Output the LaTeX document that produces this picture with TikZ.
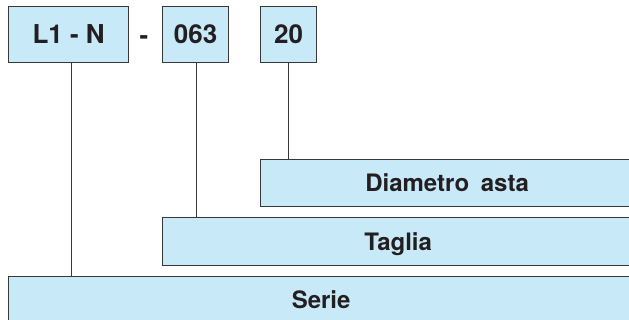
\documentclass[tikz,border=0pt]{standalone}
\usepackage{fontspec}
\setmainfont{TeX Gyre Heros}
\definecolor{boxfill}{HTML}{C8E9F8}
\definecolor{boxline}{HTML}{383838}
\definecolor{txt}{HTML}{231F20}
\begin{document}
\begin{tikzpicture}[x=1pt,y=-1pt,
  shapebox/.style={draw=boxline,fill=boxfill,line width=1.3pt,inner sep=0pt,anchor=north west,text=txt,font=\fontsize{26}{26}\selectfont\bfseries,text height=18.7pt,text depth=0pt},
  barbox/.style={shapebox,font=\fontsize{24}{24}\selectfont\bfseries,text height=17.2pt},
  conn/.style={draw=boxline,line width=1.2pt}]
\useasboundingbox (0,0) rectangle (629,320);
\clip (0,0) rectangle (629,320);
% top code boxes
\node[shapebox,minimum width=120pt,minimum height=56pt] (l1) at (8,6) {L1 - N};
\node[anchor=base,text=txt,font=\fontsize{26}{26}\selectfont\bfseries,inner sep=0pt] (dash) at (144,45) {-};
\node[shapebox,minimum width=66pt,minimum height=56pt] (c063) at (162,6) {063};
\node[shapebox,minimum width=56pt,minimum height=56pt] (c20) at (260,6) {20};
% bars
\node[barbox,minimum width=373pt,minimum height=47pt] (diam) at (260,159) {Diametro\hspace{5pt} asta};
\node[barbox,minimum width=471pt,minimum height=48pt] (taglia) at (162,217) {Taglia};
\node[barbox,minimum width=625pt,minimum height=46pt] (serie) at (8,276) {Serie};
% connectors
\draw[conn] ([xshift=2.7pt]l1.south) -- ([xshift=2.7pt]l1.south |- serie.north);
\draw[conn] ([xshift=1pt]c063.south) -- ([xshift=1pt]c063.south |- taglia.north);
\draw[conn] (c20.south) -- (c20.south |- diam.north);
\end{tikzpicture}
\end{document}
